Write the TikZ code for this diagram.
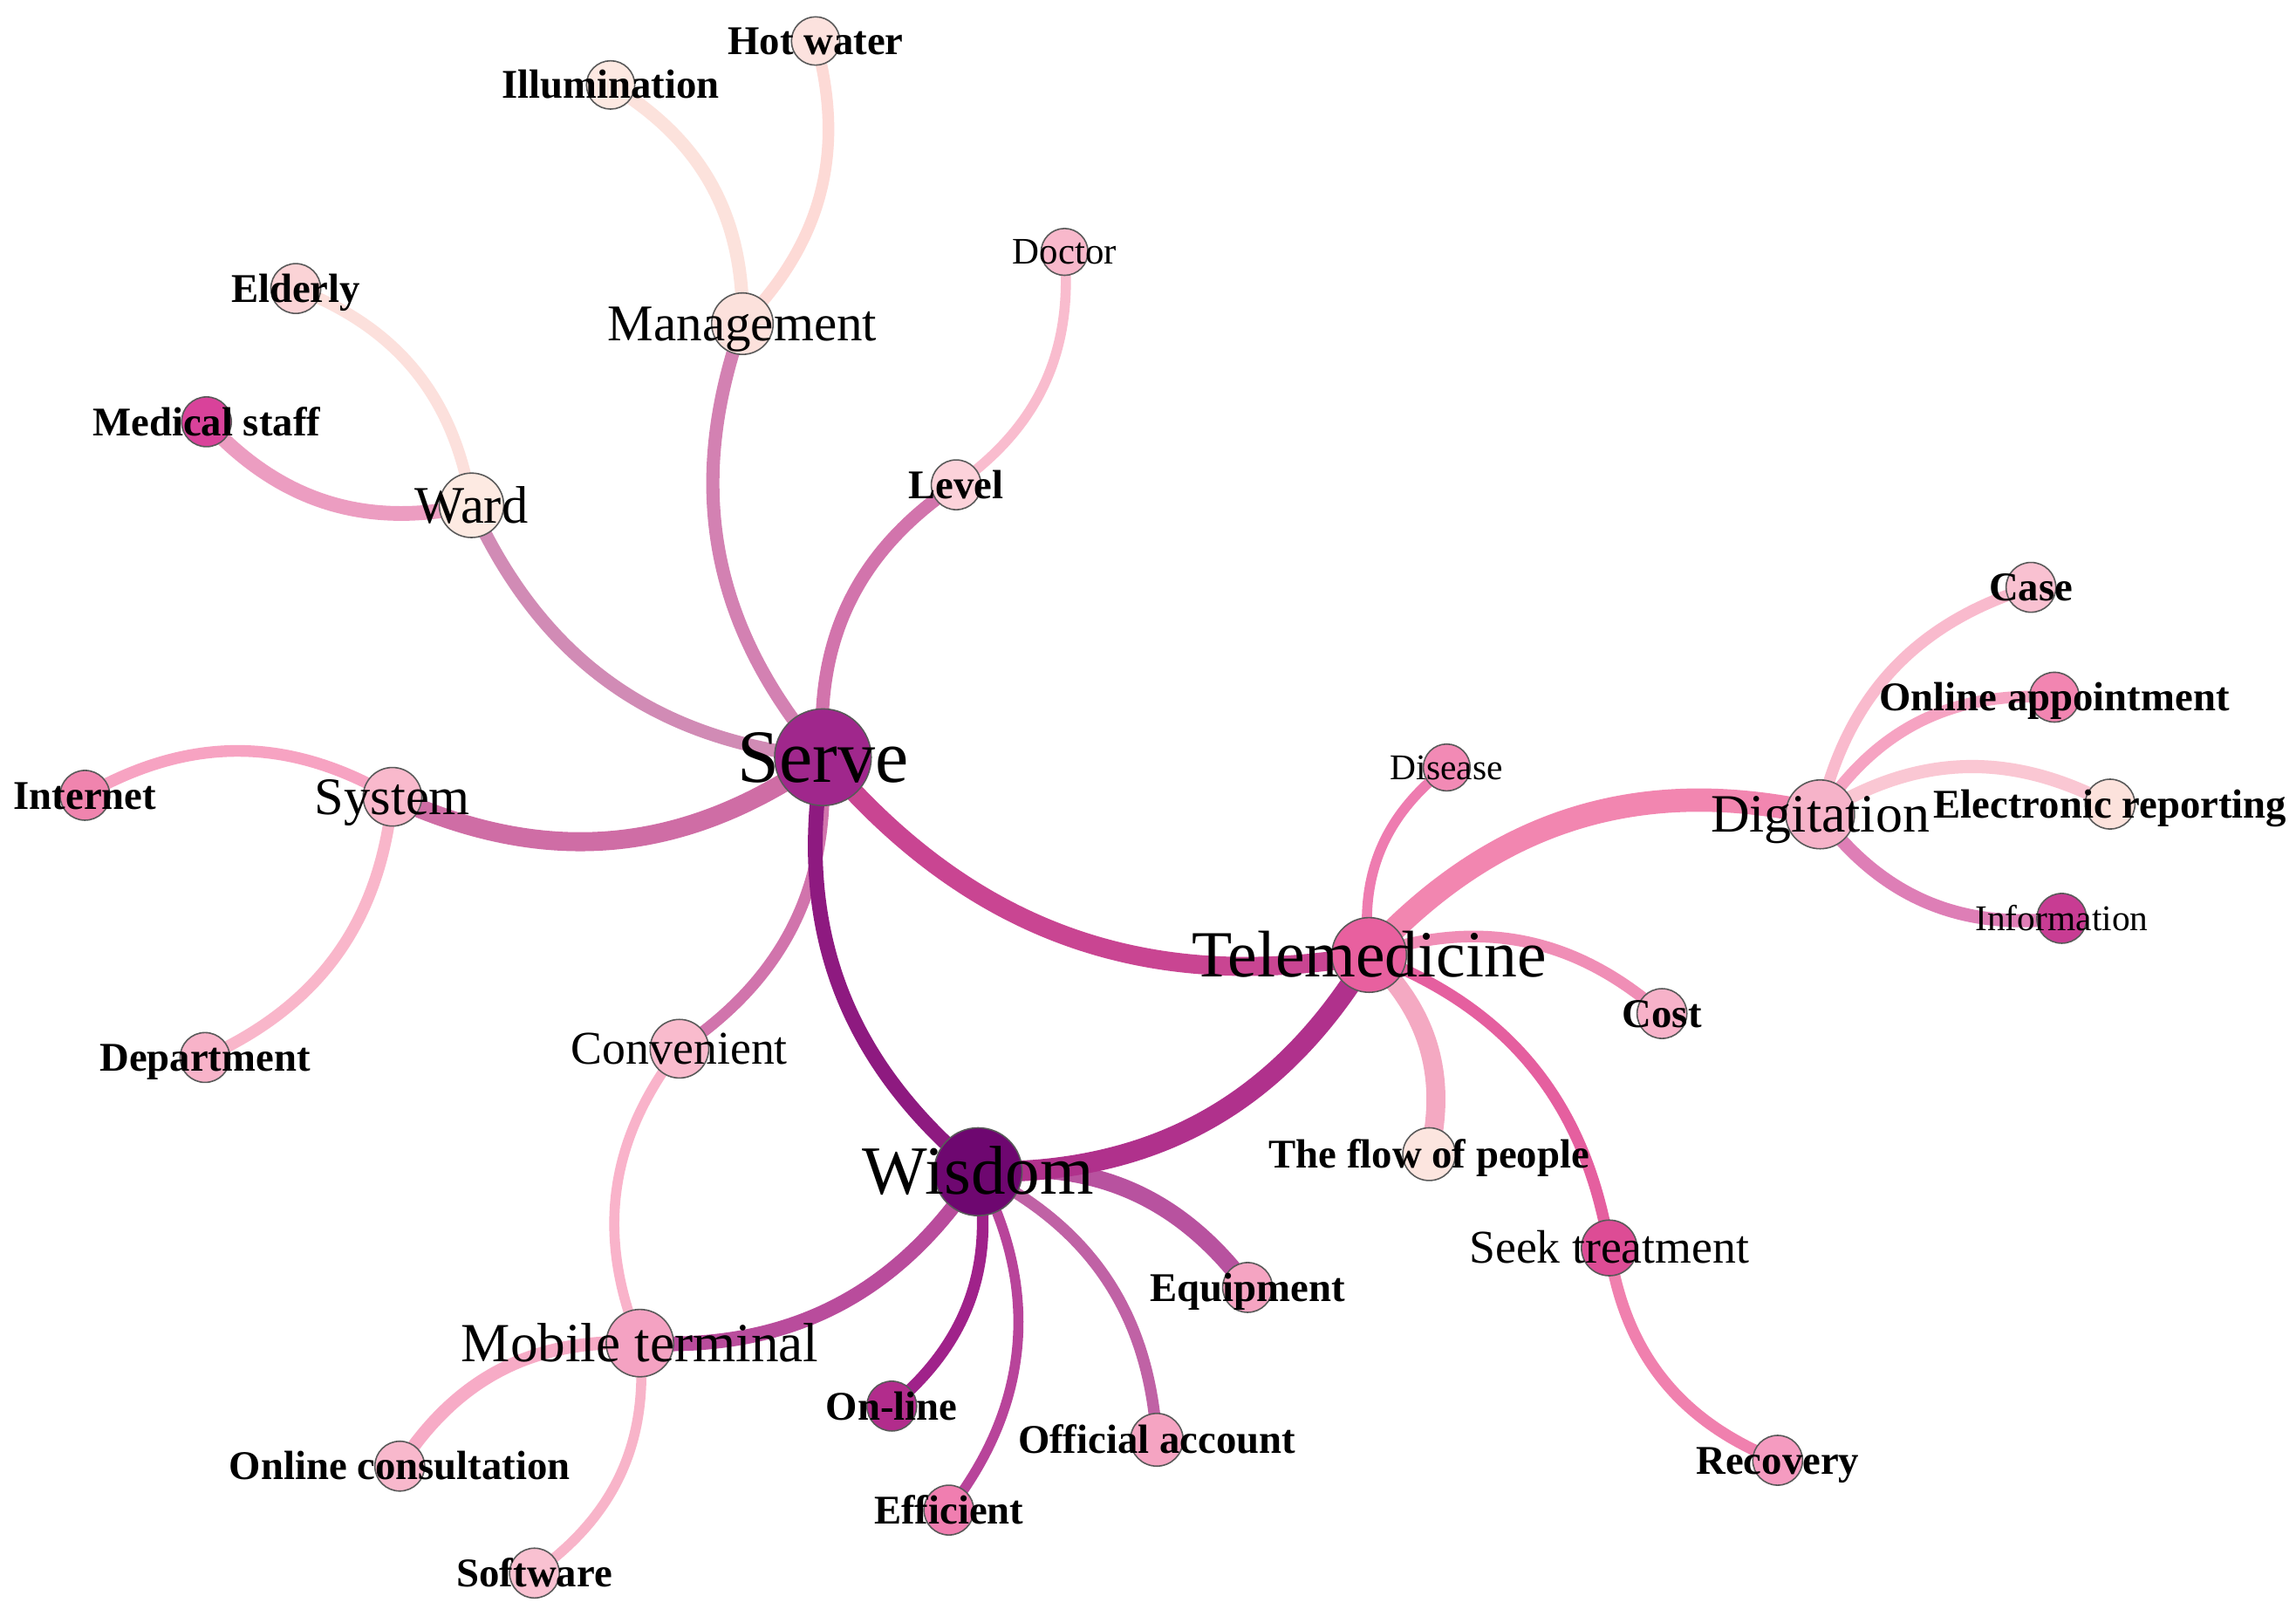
\documentclass[tikz,border=0pt]{standalone}
\usepackage{fontspec}
\setmainfont{Liberation Serif}
% node fills
\definecolor{nServe}{HTML}{A0278C}
\definecolor{nWisdom}{HTML}{6E0770}
\definecolor{nTele}{HTML}{E8609F}
\definecolor{nDigit}{HTML}{F6B3C9}
\definecolor{nSystem}{HTML}{F9B9CC}
\definecolor{nWard}{HTML}{FDEAE2}
\definecolor{nMgmt}{HTML}{FCE1DC}
\definecolor{nMobile}{HTML}{F4A2C2}
\definecolor{nSeek}{HTML}{DD4C95}
\definecolor{nConv}{HTML}{F9BBCD}
\definecolor{nHotw}{HTML}{FCE2DE}
\definecolor{nIllum}{HTML}{FDE9E2}
\definecolor{nElderly}{HTML}{FBD3D6}
\definecolor{nMed}{HTML}{D9429A}
\definecolor{nLevel}{HTML}{FCD2DA}
\definecolor{nDoctor}{HTML}{F8B8CB}
\definecolor{nInternet}{HTML}{F084AE}
\definecolor{nDept}{HTML}{F8B3C9}
\definecolor{nCase}{HTML}{F9C1D1}
\definecolor{nOA}{HTML}{F285B1}
\definecolor{nER}{HTML}{FCE2DC}
\definecolor{nInfo}{HTML}{C83C93}
\definecolor{nDisease}{HTML}{F28AB5}
\definecolor{nCost}{HTML}{F7B2C9}
\definecolor{nFlow}{HTML}{FCE5DF}
\definecolor{nRecovery}{HTML}{F59BC0}
\definecolor{nEquip}{HTML}{F5A4C2}
\definecolor{nOnline}{HTML}{B22C8C}
\definecolor{nOfficial}{HTML}{F5A4C2}
\definecolor{nEfficient}{HTML}{F07EB0}
\definecolor{nOC}{HTML}{F8B8CC}
\definecolor{nSoftware}{HTML}{F9C1D1}
% edge colours
\definecolor{eSW}{HTML}{8E1A80}
\definecolor{eST}{HTML}{C94592}
\definecolor{eWT}{HTML}{B0318C}
\definecolor{eTD}{HTML}{F286B0}
\definecolor{eSSy}{HTML}{CF6DA5}
\definecolor{eSWa}{HTML}{D18BB5}
\definecolor{eSM}{HTML}{D381B2}
\definecolor{eSL}{HTML}{D274AC}
\definecolor{eSC}{HTML}{D174AC}
\definecolor{eLD}{HTML}{F9BCCE}
\definecolor{eMI}{HTML}{FCE2DC}
\definecolor{eMH}{HTML}{FDDAD6}
\definecolor{eWE}{HTML}{FCE0DC}
\definecolor{eWM}{HTML}{EC9DC1}
\definecolor{eSyI}{HTML}{F7A3C2}
\definecolor{eSyD}{HTML}{F9B6CA}
\definecolor{eCM}{HTML}{F9B3CA}
\definecolor{eWMo}{HTML}{B94C9C}
\definecolor{eMoOC}{HTML}{F7ABC6}
\definecolor{eMoS}{HTML}{F8B4C9}
\definecolor{eWOn}{HTML}{A0228A}
\definecolor{eWEf}{HTML}{B8449A}
\definecolor{eWOf}{HTML}{C062A5}
\definecolor{eWEq}{HTML}{B8529F}
\definecolor{eTDi}{HTML}{EE7CB0}
\definecolor{eTC}{HTML}{F08EB6}
\definecolor{eTF}{HTML}{F4A9C2}
\definecolor{eTS}{HTML}{E55F9F}
\definecolor{eSR}{HTML}{F080AE}
\definecolor{eDC}{HTML}{F9BACD}
\definecolor{eDO}{HTML}{F6A3C2}
\definecolor{eDE}{HTML}{FAC7D3}
\definecolor{eDI}{HTML}{DE7EB6}
\tikzset{
  dot/.style={circle, draw=black!65, line width=0.45pt, inner sep=0pt, minimum size=#1*0.016786cm},
  lab/.style={inner sep=0pt, text depth=0pt, text height=0.66*#1pt, font=\fontsize{#1}{#1}\selectfont},
  blab/.style={inner sep=0pt, text depth=0pt, text height=0.67*#1pt, font=\bfseries\fontsize{#1}{#1}\selectfont},
  ed/.style 2 args={draw=#1, line width=#2pt, line cap=butt},
}
\begin{document}
\begin{tikzpicture}[x=0.016786cm, y=0.016786cm]
\useasboundingbox[fill=white] (0,0) rectangle (1568,1108);
% positions
\coordinate (serve) at (562,591);
\coordinate (wisdom) at (668,308);
\coordinate (tele) at (935,456);
\coordinate (digit) at (1243,552);
\coordinate (system) at (268,564);
\coordinate (ward) at (322,763);
\coordinate (mgmt) at (507,887);
\coordinate (mobile) at (437,191);
\coordinate (seek) at (1099,256);
\coordinate (conv) at (464,392);
\coordinate (hotw) at (557,1080);
\coordinate (illum) at (417,1050);
\coordinate (elderly) at (202,911);
\coordinate (med) at (141,820);
\coordinate (level) at (653,777);
\coordinate (doctor) at (727,936);
\coordinate (internet) at (58,565);
\coordinate (dept) at (140,386);
\coordinate (case) at (1387,707);
\coordinate (oa) at (1403,632);
\coordinate (er) at (1441,559);
\coordinate (info) at (1408,481);
\coordinate (disease) at (988,584);
\coordinate (cost) at (1135,416);
\coordinate (flow) at (976,320);
\coordinate (recovery) at (1214,111);
\coordinate (equip) at (852,229);
\coordinate (online) at (609,148);
\coordinate (official) at (790,125);
\coordinate (efficient) at (648,77);
\coordinate (oc) at (273,107);
\coordinate (software) at (365,34);
% edges
\draw[ed={eMI}{4.3}] (mgmt) to[bend right=30] (illum);
\draw[ed={eMH}{3.8}] (mgmt) to[bend right=30] (hotw);
\draw[ed={eWE}{3.8}] (ward) to[bend right=30] (elderly);
\draw[ed={eWM}{4.8}] (med) to[bend right=30] (ward);
\draw[ed={eLD}{3.3}] (level) to[bend right=30] (doctor);
\draw[ed={eSyI}{3.8}] (system) to[bend right=30] (internet);
\draw[ed={eSyD}{3.8}] (dept) to[bend right=30] (system);
\draw[ed={eCM}{3.3}] (conv) to[bend right=30] (mobile);
\draw[ed={eMoOC}{4.3}] (mobile) to[bend right=30] (oc);
\draw[ed={eMoS}{3.3}] (software) to[bend right=30] (mobile);
\draw[ed={eSWa}{4.3}] (ward) to[bend right=30] (serve);
\draw[ed={eSM}{4.3}] (mgmt) to[bend right=30] (serve);
\draw[ed={eSL}{4.3}] (serve) to[bend left=30] (level);
\draw[ed={eSC}{3.8}] (serve) to[bend left=30] (conv);
\draw[ed={eSSy}{6.2}] (system) to[bend right=30] (serve);
\draw[ed={eWMo}{4.8}] (mobile) to[bend right=30] (wisdom);
\draw[ed={eWOn}{3.8}] (wisdom) to[bend left=30] (online);
\draw[ed={eWEf}{3.3}] (wisdom) to[bend left=33] (efficient);
\draw[ed={eWOf}{3.8}] (wisdom) to[bend left=30] (official);
\draw[ed={eWEq}{5.7}] (wisdom) to[bend left=30] (equip);
\draw[ed={eTDi}{3.3}] (tele) to[bend left=30] (disease);
\draw[ed={eTC}{3.8}] (tele) to[bend left=30] (cost);
\draw[ed={eTF}{6.2}] (tele) to[bend left=30] (flow);
\draw[ed={eTS}{3.8}] (tele) to[bend left=30] (seek);
\draw[ed={eSR}{3.8}] (seek) to[bend right=30] (recovery);
\draw[ed={eDC}{3.8}] (digit) to[bend left=30] (case);
\draw[ed={eDO}{3.8}] (digit) to[bend left=30] (oa);
\draw[ed={eDE}{4.3}] (digit) to[bend left=30] (er);
\draw[ed={eDI}{4.3}] (digit) to[bend right=30] (info);
\draw[ed={eTD}{7.6}] (tele) to[bend left=30] (digit);
\draw[ed={eST}{6.2}] (serve) to[bend right=30] (tele);
\draw[ed={eWT}{6.7}] (wisdom) to[bend right=30] (tele);
\draw[ed={eSW}{4.8}] (serve) to[bend right=30] (wisdom);
% circles
\node[dot=66, fill=nServe] (serveC) at (serve) {};
\node[dot=60, fill=nWisdom] (wisdomC) at (wisdom) {};
\node[dot=51, fill=nTele] (teleC) at (tele) {};
\node[dot=47, fill=nDigit] (digitC) at (digit) {};
\node[dot=40, fill=nSystem] (systemC) at (system) {};
\node[dot=44, fill=nWard] (wardC) at (ward) {};
\node[dot=42, fill=nMgmt] (mgmtC) at (mgmt) {};
\node[dot=46, fill=nMobile] (mobileC) at (mobile) {};
\node[dot=38, fill=nSeek] (seekC) at (seek) {};
\node[dot=40, fill=nConv] (convC) at (conv) {};
\node[dot=33, fill=nHotw] (hotwC) at (hotw) {};
\node[dot=33, fill=nIllum] (illumC) at (illum) {};
\node[dot=34, fill=nElderly] (elderlyC) at (elderly) {};
\node[dot=34, fill=nMed] (medC) at (med) {};
\node[dot=34, fill=nLevel] (levelC) at (level) {};
\node[dot=32, fill=nDoctor] (doctorC) at (doctor) {};
\node[dot=34, fill=nInternet] (internetC) at (internet) {};
\node[dot=34, fill=nDept] (deptC) at (dept) {};
\node[dot=34, fill=nCase] (caseC) at (case) {};
\node[dot=34, fill=nOA] (oaC) at (oa) {};
\node[dot=34, fill=nER] (erC) at (er) {};
\node[dot=34, fill=nInfo] (infoC) at (info) {};
\node[dot=32, fill=nDisease] (diseaseC) at (disease) {};
\node[dot=34, fill=nCost] (costC) at (cost) {};
\node[dot=36, fill=nFlow] (flowC) at (flow) {};
\node[dot=34, fill=nRecovery] (recoveryC) at (recovery) {};
\node[dot=34, fill=nEquip] (equipC) at (equip) {};
\node[dot=34, fill=nOnline] (onlineC) at (online) {};
\node[dot=36, fill=nOfficial] (officialC) at (official) {};
\node[dot=34, fill=nEfficient] (efficientC) at (efficient) {};
\node[dot=34, fill=nOC] (ocC) at (oc) {};
\node[dot=34, fill=nSoftware] (softwareC) at (software) {};
% labels
\node[lab=24.5] (serveL) at (serve) {Serve};
\node[lab=22.5] (wisdomL) at (wisdom) {Wisdom};
\node[lab=21.5] (teleL) at (tele) {Telemedicine};
\node[lab=17.6] (digitL) at (digit) {Digitation};
\node[lab=17.2] (systemL) at (system) {System};
\node[lab=17.2] (wardL) at (ward) {Ward};
\node[lab=16.8] (mgmtL) at (mgmt) {Management};
\node[lab=18.0] (mobileL) at (mobile) {Mobile terminal};
\node[lab=15.3] (seekL) at (seek) {Seek treatment};
\node[lab=15.3] (convL) at (conv) {Convenient};
\node[blab=13.3] (hotwL) at (hotw) {Hot water};
\node[blab=13.3] (illumL) at (illum) {Illumination};
\node[blab=13.3] (elderlyL) at (elderly) {Elderly};
\node[blab=13.3] (medL) at (med) {Medical staff};
\node[blab=13.3] (levelL) at (level) {Level};
\node[lab=12.2] (doctorL) at (doctor) {Doctor};
\node[blab=13.3] (internetL) at (internet) {Internet};
\node[blab=13.3] (deptL) at (dept) {Department};
\node[blab=13.3] (caseL) at (case) {Case};
\node[blab=13.3] (oaL) at (oa) {Online appointment};
\node[blab=13.3] (erL) at (er) {Electronic reporting};
\node[lab=11.8] (infoL) at (info) {Information};
\node[lab=11.8] (diseaseL) at (disease) {Disease};
\node[blab=13.3] (costL) at (cost) {Cost};
\node[blab=13.3] (flowL) at (flow) {The flow of people};
\node[blab=13.3] (recoveryL) at (recovery) {Recovery};
\node[blab=13.3] (equipL) at (equip) {Equipment};
\node[blab=13.3] (onlineL) at (online) {On-line};
\node[blab=13.3] (officialL) at (official) {Official account};
\node[blab=13.3] (efficientL) at (efficient) {Efficient};
\node[blab=13.3] (ocL) at (oc) {Online consultation};
\node[blab=13.3] (softwareL) at (software) {Software};
\end{tikzpicture}
\end{document}
